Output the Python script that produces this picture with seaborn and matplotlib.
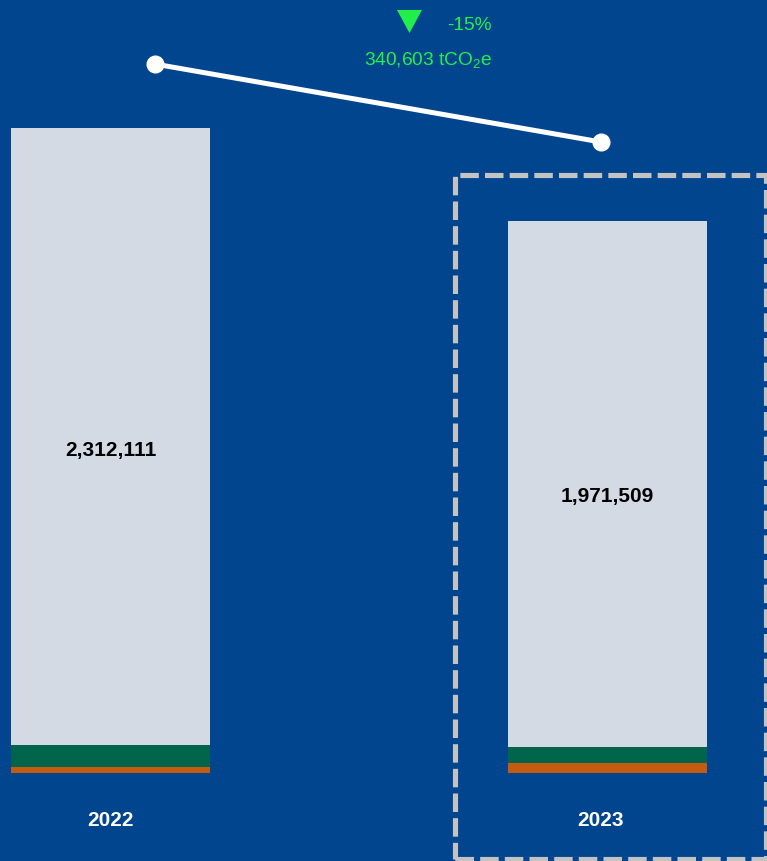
import matplotlib
matplotlib.use("Agg")
import matplotlib.pyplot as plt
from matplotlib.patches import Rectangle, Polygon
import seaborn as sns
import pandas as pd
import numpy as np

# ---- data ----
years = ["2022", "2023"]
main_vals = [2312111, 1971509]      # light grey segment (labelled)
green_vals = [82000, 60000]         # green segment
orange_vals = [22000, 37000]        # orange segment (bottom)
trend_vals = [2655000, 2363000]     # decorative trend line points
change_pct = "-15%"
change_abs = "340,603"
main_labels = ["2,312,111", "1,971,509"]

BG = "#00458E"
GREY = "#D3DAE4"
GREEN = "#00654A"
ORANGE = "#C55A11"
LIME = "#22F04A"

sns.set_theme(style="white")
plt.rcParams["font.family"] = ["Liberation Sans", "DejaVu Sans"]
plt.rcParams["mathtext.default"] = "regular"

df = pd.DataFrame({"year": years, "main": main_vals, "green": green_vals, "orange": orange_vals})
df["top_total"] = df["main"] + df["green"] + df["orange"]
df["mid_total"] = df["green"] + df["orange"]

fig = plt.figure(figsize=(7.67, 8.61), dpi=100)
fig.patch.set_facecolor(BG)
ax = fig.add_axes([0, 0, 1, 1])
ax.set_facecolor(BG)

for col, c in [("top_total", GREY), ("mid_total", GREEN), ("orange", ORANGE)]:
    sns.barplot(data=df, x="year", y=col, color=c, saturation=1, width=0.4,
                linewidth=0, ax=ax, order=years)

ax.set_xlim(-0.2223, 1.3209)
ax.set_ylim(-88 * 3745, 773 * 3745)
ax.axis("off")

# value labels centred on full bar
for i, (lab, tot) in enumerate(zip(main_labels, df["top_total"])):
    ax.text(i, tot / 2, lab, ha="center", va="center", fontsize=15,
            fontweight="bold", color="black")

# year labels
year_off = [0.0, -0.015]
trans = matplotlib.transforms.blended_transform_factory(ax.transData, fig.transFigure)
for i, y in enumerate(years):
    ax.text(i + year_off[i], 1 - 821 / 861, y, transform=trans, ha="center",
            va="center", fontsize=15, fontweight="bold", color="white")

# trend line
line_x = [0.0895, 0.987]
ax.plot(line_x, trend_vals, color="white", lw=3.6, marker="o", markersize=12,
        solid_capstyle="round", zorder=5)

# change annotation
W, H = 767, 861
tri = Polygon([(397 / W, 1 - 10 / H), (422 / W, 1 - 10 / H), (409.5 / W, 1 - 33 / H)],
              closed=True, transform=fig.transFigure, facecolor=LIME, edgecolor="none")
fig.patches.append(tri)
fig.text(492 / W, 1 - 25 / H, change_pct, ha="right", va="center", fontsize=13.8, color=LIME)
fig.text(492 / W, 1 - 60 / H, change_abs + r" tCO$_2$e", ha="right", va="center",
         fontsize=13.8, color=LIME)

# dashed highlight box around 2023
box = Rectangle((454.5 / W, 1 - 858.5 / H), (765.5 - 454.5) / W, (858.5 - 175) / H,
                transform=fig.transFigure, fill=False, edgecolor="#C3C3C3",
                linewidth=3.7, linestyle=(0, (3.6, 1.2)), capstyle="butt")
fig.patches.append(box)

fig.savefig("out.png", dpi=100, facecolor=BG)
